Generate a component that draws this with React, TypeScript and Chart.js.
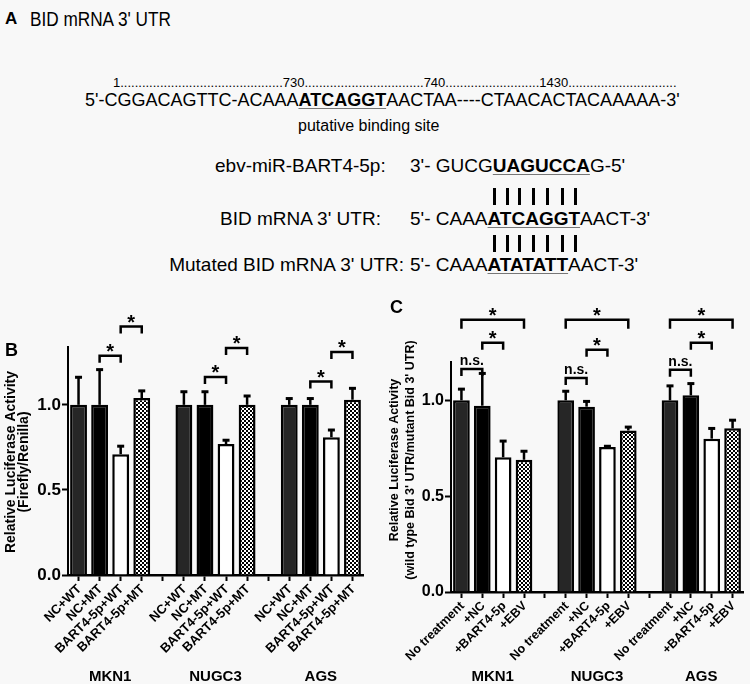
import React, { useEffect, useRef } from "react";
import { Chart, registerables } from "chart.js";
Chart.register(...registerables);

const FONT = '"Liberation Sans", Arial, Helvetica, sans-serif';

// ---------- Panel B data ----------
const groupsB = ["MKN1", "NUGC3", "AGS"];
const treatmentsB = ["NC+WT", "NC+MT", "BART4-5p+WT", "BART4-5p+MT"];
const meanB_MKN1 = [1.0, 1.0, 0.71, 1.04];
const meanB_NUGC3 = [1.0, 1.0, 0.77, 1.0];
const meanB_AGS = [1.0, 1.0, 0.81, 1.03];
const errB_MKN1 = [0.165, 0.21, 0.05, 0.045];
const errB_NUGC3 = [0.08, 0.08, 0.025, 0.055];
const errB_AGS = [0.04, 0.04, 0.045, 0.07];
const yTicksB = [0, 0.5, 1.0];
const yMaxB = 1.34;
// [group, from treatment, to treatment, y value, label]
const sigB: [number, number, number, number, string][] = [
  [0, 1, 2, 1.288, "*"],
  [0, 2, 3, 1.46, "*"],
  [1, 1, 2, 1.163, "*"],
  [1, 2, 3, 1.334, "*"],
  [2, 1, 2, 1.137, "*"],
  [2, 2, 3, 1.31, "*"],
];
const yTitleB = ["Relative Luciferase Activity", "(Firefly/Renilla)"];

// ---------- Panel C data ----------
const groupsC = ["MKN1", "NUGC3", "AGS"];
const treatmentsC = ["No treatment", "+NC", "+BART4-5p", "+EBV"];
const meanC_MKN1 = [1.0, 0.972, 0.703, 0.69];
const meanC_NUGC3 = [1.0, 0.967, 0.757, 0.843];
const meanC_AGS = [1.0, 1.026, 0.8, 0.854];
const errC_MKN1 = [0.061, 0.171, 0.087, 0.047];
const errC_NUGC3 = [0.05, 0.03, 0.006, 0.02];
const errC_AGS = [0.078, 0.064, 0.056, 0.045];
const yTicksC = [0, 0.5, 1.0];
const yMaxC = 1.2;
const sigC: [number, number, number, number, string][] = [
  [0, 0, 1, 1.164, "n.s."],
  [1, 0, 1, 1.117, "n.s."],
  [2, 0, 1, 1.159, "n.s."],
  [0, 1, 2, 1.3, "*"],
  [1, 1, 2, 1.264, "*"],
  [2, 1, 2, 1.3, "*"],
  [0, 0, 3, 1.42, "*"],
  [1, 0, 3, 1.42, "*"],
  [2, 0, 3, 1.42, "*"],
];
const yTitleC = ["Relative Luciferase Activity", "(wild type Bid 3' UTR/mutant Bid 3' UTR)"];

const fillColors = ["#262626", "#000000", "#ffffff"];

function makePattern(): CanvasPattern | string {
  const c = document.createElement("canvas");
  c.width = 4;
  c.height = 4;
  const g = c.getContext("2d");
  if (!g) return "#777";
  g.fillStyle = "#ffffff";
  g.fillRect(0, 0, 4, 4);
  g.fillStyle = "#000000";
  g.fillRect(0, 0, 2, 2);
  g.fillRect(2, 2, 2, 2);
  return g.createPattern(c, "repeat") || "#777";
}

type Spec = {
  groups: string[];
  treatments: string[];
  means: number[][];
  errs: number[][];
  yTicks: number[];
  yMax: number;
  sig: [number, number, number, number, string][];
  yTitle: string[];
  titleSize: number;
  titleX: number[];
  titleY: number;
  tickSize: number;
  xLabelSize: number;
  padding: { top: number; left: number; right: number; bottom: number };
  yAxisWidth: number;
  xAxisHeight: number;
  groupY: number;
  bigLeg: number;
};

function buildChart(canvas: HTMLCanvasElement, spec: Spec) {
  const pattern = makePattern();
  const cats: string[] = [];
  const vals: (number | null)[] = [];
  const errs: (number | null)[] = [];
  const fills: any[] = [];
  spec.groups.forEach((g, gi) => {
    if (gi > 0) {
      cats.push("");
      vals.push(null);
      errs.push(null);
      fills.push("rgba(0,0,0,0)");
    }
    spec.treatments.forEach((t, ti) => {
      cats.push(t);
      vals.push(spec.means[gi][ti]);
      errs.push(spec.errs[gi][ti]);
      fills.push(ti === 3 ? pattern : fillColors[ti]);
    });
  });
  const idx = (g: number, t: number) => g * (spec.treatments.length + 1) + t;

  const decor = {
    id: "decor",
    afterDraw(chart: any) {
      const { ctx } = chart;
      const x = chart.scales.x;
      const y = chart.scales.y;
      const base = chart.chartArea.bottom;
      ctx.save();
      ctx.strokeStyle = "#000";
      ctx.fillStyle = "#000";
      ctx.lineCap = "butt";
      // error bars
      vals.forEach((v, i) => {
        if (v == null) return;
        const e = errs[i] as number;
        const px = x.getPixelForValue(i);
        const y0 = y.getPixelForValue(v);
        const y1 = y.getPixelForValue(v + e);
        ctx.lineWidth = 2.5;
        ctx.beginPath();
        ctx.moveTo(px, y0);
        ctx.lineTo(px, y1);
        ctx.stroke();
        ctx.lineWidth = 3;
        ctx.beginPath();
        ctx.moveTo(px - 3.5, y1 + 0.5);
        ctx.lineTo(px + 3.5, y1 + 0.5);
        ctx.stroke();
      });
      // significance brackets
      spec.sig.forEach(([g, a, b, v, label]) => {
        const xa = x.getPixelForValue(idx(g, a));
        const xb = x.getPixelForValue(idx(g, b));
        const py = y.getPixelForValue(v);
        const leg = b - a === 3 ? spec.bigLeg : 7;
        ctx.lineWidth = 2.5;
        ctx.beginPath();
        ctx.moveTo(xa, py + leg);
        ctx.lineTo(xa, py);
        ctx.lineTo(xb, py);
        ctx.lineTo(xb, py + leg);
        ctx.stroke();
        ctx.textAlign = "center";
        ctx.textBaseline = "alphabetic";
        if (label === "*") {
          ctx.font = `bold 20px ${FONT}`;
          ctx.fillText("*", (xa + xb) / 2, py + 2);
        } else {
          ctx.font = `bold 14px ${FONT}`;
          ctx.fillText(label, (xa + xb) / 2, py - 4);
        }
      });
      // rotated category labels
      ctx.font = `bold ${spec.xLabelSize}px ${FONT}`;
      ctx.textAlign = "right";
      ctx.textBaseline = "middle";
      cats.forEach((c, i) => {
        if (!c) return;
        const px = x.getPixelForValue(i);
        ctx.save();
        ctx.translate(px + 1, base + 12);
        ctx.rotate(-Math.PI / 4);
        ctx.fillText(c, 0, 0);
        ctx.restore();
      });
      // group labels
      ctx.font = `bold 15px ${FONT}`;
      ctx.textAlign = "center";
      ctx.textBaseline = "middle";
      spec.groups.forEach((g, gi) => {
        const xc = (x.getPixelForValue(idx(gi, 0)) + x.getPixelForValue(idx(gi, spec.treatments.length - 1))) / 2;
        ctx.fillText(g, xc, spec.groupY);
      });
      // y-axis title
      ctx.font = `bold ${spec.titleSize}px ${FONT}`;
      spec.yTitle.forEach((line, i) => {
        ctx.save();
        ctx.translate(spec.titleX[i], spec.titleY);
        ctx.rotate(-Math.PI / 2);
        ctx.fillText(line, 0, 0);
        ctx.restore();
      });
      ctx.restore();
    },
  };

  return new Chart(canvas, {
    type: "bar",
    data: {
      labels: cats,
      datasets: [
        {
          data: vals as any,
          backgroundColor: fills,
          borderColor: "#000",
          borderWidth: 2.5,
          barPercentage: 0.8,
          categoryPercentage: 1,
        },
      ],
    },
    options: {
      animation: false,
      responsive: false,
      maintainAspectRatio: false,
      devicePixelRatio: 1,
      layout: { padding: spec.padding },
      plugins: { legend: { display: false }, tooltip: { enabled: false } },
      scales: {
        x: {
          grid: {
            display: true,
            drawOnChartArea: false,
            drawTicks: true,
            tickLength: 6,
            tickWidth: 2,
            tickColor: "#000",
            offset: false,
          },
          border: { display: true, color: "#000", width: 2.5 },
          ticks: { display: false, autoSkip: false },
          afterFit: (s: any) => {
            s.height = spec.xAxisHeight;
          },
        },
        y: {
          min: 0,
          max: spec.yMax,
          afterBuildTicks: (s: any) => {
            s.ticks = spec.yTicks.map((v) => ({ value: v }));
          },
          grid: {
            display: true,
            drawOnChartArea: false,
            drawTicks: true,
            tickLength: 6,
            tickWidth: 2,
            tickColor: "#000",
          },
          border: { display: true, color: "#000", width: 2 },
          ticks: {
            color: "#000",
            padding: 1,
            font: { family: FONT, weight: "bold", size: spec.tickSize },
            callback: (v: any) => Number(v).toFixed(1),
          },
          afterFit: (s: any) => {
            s.width = spec.yAxisWidth;
          },
        },
      },
    },
    plugins: [decor],
  } as any);
}

function ChartCanvas(props: { spec: Spec; left: number; top: number; width: number; height: number }) {
  const ref = useRef<HTMLCanvasElement>(null);
  useEffect(() => {
    if (!ref.current) return;
    const ch = buildChart(ref.current, props.spec);
    return () => ch.destroy();
  }, []);
  return (
    <canvas
      ref={ref}
      width={props.width}
      height={props.height}
      style={{ position: "absolute", left: props.left, top: props.top, width: props.width, height: props.height }}
    />
  );
}

const specB: Spec = {
  groups: groupsB,
  treatments: treatmentsB,
  means: [meanB_MKN1, meanB_NUGC3, meanB_AGS],
  errs: [errB_MKN1, errB_NUGC3, errB_AGS],
  yTicks: yTicksB,
  yMax: yMaxB,
  sig: sigB,
  yTitle: yTitleB,
  titleSize: 14,
  titleX: [11, 24],
  titleY: 162,
  tickSize: 17,
  xLabelSize: 13,
  padding: { top: 47, left: 0, right: 9, bottom: 34 },
  yAxisWidth: 68,
  xAxisHeight: 75,
  groupY: 377,
  bigLeg: 9,
};

const specC: Spec = {
  groups: groupsC,
  treatments: treatmentsC,
  means: [meanC_MKN1, meanC_NUGC3, meanC_AGS],
  errs: [errC_MKN1, errC_NUGC3, errC_AGS],
  yTicks: yTicksC,
  yMax: yMaxC,
  sig: sigC,
  yTitle: yTitleC,
  titleSize: 12.5,
  titleX: [20, 36],
  titleY: 160,
  tickSize: 16,
  xLabelSize: 12.5,
  padding: { top: 62, left: 0, right: 7, bottom: 17 },
  yAxisWidth: 76,
  xAxisHeight: 75,
  groupY: 377,
  bigLeg: 9,
};

const numbersLine =
  "1" + ".".repeat(45) + "730" + ".".repeat(33) + "740" + ".".repeat(26) + "1430" + ".".repeat(30);

function T(p: { x?: number; right?: number; y: number; size: number; bold?: boolean; sx?: number; children: any }) {
  const st: any = {
    position: "absolute",
    top: p.y,
    fontSize: p.size,
    fontWeight: p.bold ? "bold" : "normal",
    lineHeight: 1,
    whiteSpace: "pre",
  };
  if (p.sx) {
    st.transform = `scaleX(${p.sx})`;
    st.transformOrigin = "left top";
  }
  if (p.right !== undefined) st.right = 750 - p.right;
  else st.left = p.x;
  return <div style={st}>{p.children}</div>;
}

function U(p: { children: any }) {
  return (
    <span
      style={{
        fontWeight: "bold",
        textDecoration: "underline",
        textDecorationThickness: "1px",
        textUnderlineOffset: "2px",
        textDecorationColor: "#777",
      }}
    >
      {p.children}
    </span>
  );
}

function Bars(p: { x: number; y: number; size: number; prefix: string; letters: string }) {
  return (
    <div style={{ position: "absolute", left: p.x, top: p.y, fontSize: p.size, lineHeight: 1, whiteSpace: "pre" }}>
      <span style={{ visibility: "hidden" }}>{p.prefix}</span>
      {p.letters.split("").map((ch, i) => (
        <span key={i} style={{ position: "relative", fontWeight: "bold", display: "inline-block" }}>
          <span style={{ visibility: "hidden" }}>{ch}</span>
          <span
            style={{
              position: "absolute",
              left: "50%",
              top: 0,
              width: 3,
              marginLeft: -1.5,
              height: 17,
              background: "#000",
            }}
          />
        </span>
      ))}
    </div>
  );
}

export default function App() {
  return (
    <div
      style={{
        position: "fixed",
        left: 0,
        top: 0,
        width: 750,
        height: 684,
        background: "#f8f8f8",
        overflow: "hidden",
        fontFamily: FONT,
        color: "#000",
      }}
    >
      <ChartCanvas spec={specB} left={0} top={300} width={372} height={384} />
      <ChartCanvas spec={specC} left={375} top={300} width={375} height={384} />

      <T x={5} y={10} size={17} bold>A</T>
      <T x={30} y={9} size={20} sx={0.86}>BID mRNA 3' UTR</T>
      <T x={113} y={76} size={13}>{numbersLine}</T>
      <T x={85} y={91} size={18}>
        5'-CGGACAGTTC-ACAAA<U>ATCAGGT</U>AACTAA----CTAACACTACAAAAA-3'
      </T>
      <T x={298} y={118} size={16}>putative binding site</T>

      <T x={215} y={156} size={19}>ebv-miR-BART4-5p:</T>
      <T x={410} y={156} size={19}>
        3'- GUCG<U>UAGUCCA</U>G-5'
      </T>
      <Bars x={410} y={188} size={19} prefix={"5'- CAAA"} letters="ATCAGGT" />
      <T x={220} y={209} size={19}>BID mRNA 3' UTR:</T>
      <T x={410} y={209} size={19}>
        5'- CAAA<U>ATCAGGT</U>AACT-3'
      </T>
      <Bars x={410} y={235} size={19} prefix={"5'- CAAA"} letters="ATCAGGT" />
      <T right={404} y={255} size={19}>Mutated BID mRNA 3' UTR:</T>
      <T x={410} y={255} size={19}>
        5'- CAAA<U>ATATATT</U>AACT-3'
      </T>

      <T x={5} y={341} size={18} bold>B</T>
      <T x={390} y={298} size={18} bold>C</T>
    </div>
  );
}
